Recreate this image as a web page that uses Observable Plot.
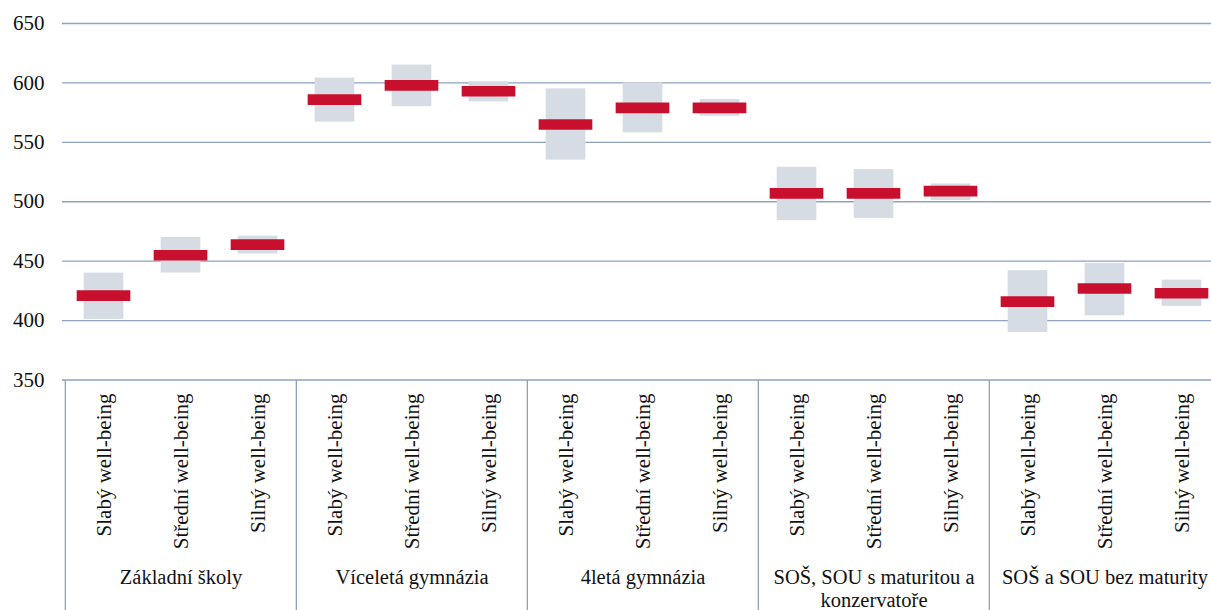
<!DOCTYPE html>
<html>
<head>
<meta charset="utf-8">
<script src="https://cdn.jsdelivr.net/npm/d3@7"></script>
<script src="https://cdn.jsdelivr.net/npm/@observablehq/plot@0.6"></script>
<style>
  html, body { margin: 0; padding: 0; background: #fff; }
  svg { display: block; }
</style>
</head>
<body>
<div id="chart"></div>
<script>
const groups = ["Základní školy", "Víceletá gymnázia", "4letá gymnázia", "SOŠ, SOU s maturitou a\nkonzervatoře", "SOŠ a SOU bez maturity"];
const levels = ["Slabý well-being", "Střední well-being", "Silný well-being"];
const means = [421, 455, 464, 586, 598, 593, 565, 579, 579, 507, 507, 509, 416, 427, 423];
const lows  = [401, 440, 456, 567, 580, 584, 535, 558, 572, 484, 486, 501, 390, 404, 412];
const highs = [440, 470, 471, 604, 615, 601, 595, 600, 586, 529, 527, 515, 442, 448, 434];
const yTicks = [350, 400, 450, 500, 550, 600, 650];
const gridTicks = [400, 450, 500, 550, 600, 650];

const rows = [];
groups.forEach((g, gi) => levels.forEach((l, li) => {
  const i = gi * 3 + li;
  rows.push({key: g + "|" + l, group: g, level: l, gi, li, mean: means[i], lo: lows[i], hi: highs[i]});
}));
const keys = rows.map(d => d.key);
const firstOfGroup = rows.filter(d => d.li === 0);
const midOfGroup = rows.filter(d => d.li === 1);

const W = 1211, H = 610;
const band = (1222 - 62) / keys.length;
const font = "Liberation Serif";
const gridColor = "#8fa2bf";

const chart = Plot.plot({
  width: W,
  height: H,
  marginLeft: 62,
  marginRight: 0,
  marginTop: 380,
  marginBottom: 0,
  style: {background: "#fff", overflow: "visible"},
  x: {type: "band", domain: keys, range: [62, 1222], padding: 0, axis: null},
  y: {domain: [350, 650], range: [379.5, 23], axis: null},
  marks: [
    Plot.ruleY(gridTicks, {stroke: gridColor, strokeWidth: 1.3}),
    Plot.ruleY([350], {stroke: gridColor, strokeWidth: 1.3}),
    Plot.ruleX(firstOfGroup, {x: "key", dx: -band / 2, stroke: gridColor, strokeWidth: 1.3}),
    Plot.barY(rows, {x: "key", y1: "lo", y2: "hi", fill: "#d6dce4", insetLeft: (band - 40) / 2, insetRight: (band - 40) / 2}),
    Plot.tickY(rows, {x: "key", y: "mean", stroke: "#c8102e", strokeWidth: 10.7, insetLeft: (band - 54) / 2, insetRight: (band - 54) / 2}),
    Plot.text(yTicks, {y: d => d, text: d => String(d), frameAnchor: "left", dx: -18, textAnchor: "end", fontSize: 21, fontFamily: font, fill: "#111"}),
    Plot.text(rows, {x: "key", y: () => 350, text: "level", rotate: -90, textAnchor: "end", dy: 13.5, fontSize: 21, fontFamily: font, fill: "#111"}),
    Plot.text(midOfGroup, {x: "key", y: () => 350, text: "group", lineAnchor: "top", lineHeight: 1.15, dy: 187, fontSize: 20.5, fontFamily: font, fill: "#111"})
  ]
});
document.getElementById("chart").appendChild(chart);
</script>
</body>
</html>
